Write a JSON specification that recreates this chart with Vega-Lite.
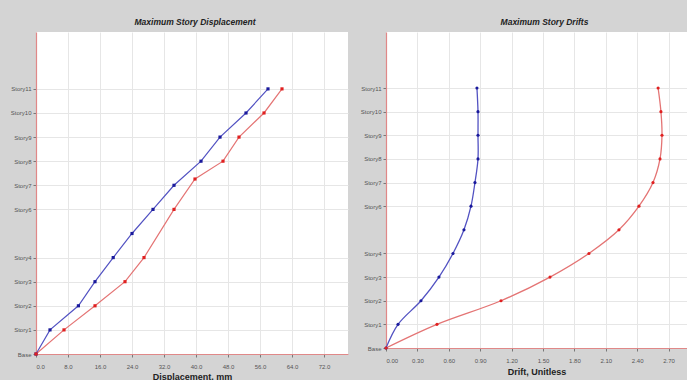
{
  "$schema": "https://vega.github.io/schema/vega-lite/v6.json",
  "background": "#d4d4d4",
  "padding": {"left": 7, "top": 17, "right": 0, "bottom": 0},
  "bounds": "flush",
  "spacing": 38,
  "config": {
    "view": {"stroke": null, "fill": "white"},
    "axis": {
      "domainColor": "#e08888",
      "domainWidth": 1.2,
      "tickColor": "#777777",
      "tickSize": 3,
      "labelFont": "Liberation Sans",
      "labelFontSize": 6,
      "labelColor": "#555555",
      "gridColor": "#e6e6e6",
      "gridWidth": 1,
      "titleFont": "Liberation Sans",
      "titleFontSize": 9,
      "titleFontWeight": "bold",
      "titleColor": "#222222"
    },
    "title": {"font": "Liberation Sans", "fontSize": 8.5, "fontWeight": "bold", "fontStyle": "italic", "color": "#222222", "offset": 6}
  },
  "datasets": {
    "disp": [
      {"series": "X", "level": 0, "value": 0},
      {"series": "X", "level": 1, "value": 3.5},
      {"series": "X", "level": 2, "value": 10.6},
      {"series": "X", "level": 3, "value": 14.75},
      {"series": "X", "level": 4, "value": 19.3},
      {"series": "X", "level": 5, "value": 24.0},
      {"series": "X", "level": 6, "value": 29.25},
      {"series": "X", "level": 7, "value": 34.5},
      {"series": "X", "level": 8, "value": 41.25},
      {"series": "X", "level": 9, "value": 46.0},
      {"series": "X", "level": 10, "value": 52.5},
      {"series": "X", "level": 11, "value": 58.0},
      {"series": "Y", "level": 0, "value": 0},
      {"series": "Y", "level": 1, "value": 7.0},
      {"series": "Y", "level": 2, "value": 14.75},
      {"series": "Y", "level": 3, "value": 22.25},
      {"series": "Y", "level": 4, "value": 27.0},
      {"series": "Y", "level": 6, "value": 34.5},
      {"series": "Y", "level": 7.26, "value": 39.75},
      {"series": "Y", "level": 8, "value": 46.75},
      {"series": "Y", "level": 9, "value": 50.75},
      {"series": "Y", "level": 10, "value": 57.0},
      {"series": "Y", "level": 11, "value": 61.5}
    ],
    "drift": [
      {"series": "X", "level": 0, "value": 0},
      {"series": "X", "level": 1, "value": 0.115},
      {"series": "X", "level": 2, "value": 0.334},
      {"series": "X", "level": 3, "value": 0.506},
      {"series": "X", "level": 4, "value": 0.64},
      {"series": "X", "level": 5, "value": 0.745},
      {"series": "X", "level": 6, "value": 0.812},
      {"series": "X", "level": 7, "value": 0.85},
      {"series": "X", "level": 8, "value": 0.879},
      {"series": "X", "level": 9, "value": 0.879},
      {"series": "X", "level": 10, "value": 0.879},
      {"series": "X", "level": 11, "value": 0.869},
      {"series": "Y", "level": 0, "value": 0},
      {"series": "Y", "level": 1, "value": 0.487},
      {"series": "Y", "level": 2, "value": 1.099},
      {"series": "Y", "level": 3, "value": 1.567},
      {"series": "Y", "level": 4, "value": 1.939},
      {"series": "Y", "level": 5, "value": 2.226},
      {"series": "Y", "level": 6, "value": 2.417},
      {"series": "Y", "level": 7, "value": 2.551},
      {"series": "Y", "level": 8, "value": 2.618},
      {"series": "Y", "level": 9, "value": 2.637},
      {"series": "Y", "level": 10, "value": 2.627},
      {"series": "Y", "level": 11, "value": 2.6}
    ]
  },
  "hconcat": [
    {
      "width": 312,
      "height": 322,
      "title": {"text": "Maximum Story Displacement", "dx": 3},
      "data": {"name": "disp"},
      "encoding": {
        "x": {"field": "value", "type": "quantitative", "scale": {"domain": [0, 78], "nice": false, "zero": true},
          "axis": {"title": "Displacement, mm", "values": [0, 8, 16, 24, 32, 40, 48, 56, 64, 72], "format": ".1f", "labelPadding": 6, "titlePadding": 4, "minExtent": 14, "maxExtent": 14}},
        "y": {"field": "level", "type": "quantitative", "scale": {"domain": [0, 13.36], "nice": false},
          "axis": {"title": null, "values": [0, 1, 2, 3, 4, 6, 7, 8, 9, 10, 11], "labelExpr": "datum.value == 0 ? 'Base' : 'Story' + datum.value", "labelPadding": 2, "minExtent": 29, "maxExtent": 29}},
        "order": {"field": "level", "type": "quantitative"}
      },
      "layer": [
        {"mark": {"type": "line", "strokeWidth": 1.2},
          "encoding": {"color": {"field": "series", "type": "nominal", "scale": {"domain": ["X", "Y"], "range": ["#5252c2", "#e47474"]}, "legend": null}}},
        {"mark": {"type": "point", "filled": true, "shape": "square", "size": 10, "opacity": 1},
          "encoding": {"fill": {"field": "series", "type": "nominal", "scale": {"domain": ["X", "Y"], "range": ["#1a1a9c", "#e02020"]}, "legend": null}}}
      ]
    },
    {
      "width": 301,
      "height": 316,
      "title": {"text": "Maximum Story Drifts", "dx": 8},
      "data": {"name": "drift"},
      "encoding": {
        "x": {"field": "value", "type": "quantitative", "scale": {"domain": [0, 2.876], "nice": false},
          "axis": {"title": "Drift, Unitless", "values": [0, 0.3, 0.6, 0.9, 1.2, 1.5, 1.8, 2.1, 2.4, 2.7], "format": ".2f", "labelPadding": 6, "titlePadding": 4}},
        "y": {"field": "level", "type": "quantitative", "scale": {"domain": [0, 13.37], "nice": false},
          "axis": {"title": null, "values": [0, 1, 2, 3, 4, 6, 7, 8, 9, 10, 11], "labelExpr": "datum.value == 0 ? 'Base' : 'Story' + datum.value", "labelPadding": 2}},
        "order": {"field": "level", "type": "quantitative"}
      },
      "layer": [
        {"mark": {"type": "line", "strokeWidth": 1.3, "interpolate": "catmull-rom"},
          "encoding": {"color": {"field": "series", "type": "nominal", "scale": {"domain": ["X", "Y"], "range": ["#2a2aa8", "#cc4a4a"]}, "legend": null}}},
        {"mark": {"type": "point", "filled": true, "shape": "circle", "size": 10, "opacity": 1},
          "encoding": {"fill": {"field": "series", "type": "nominal", "scale": {"domain": ["X", "Y"], "range": ["#1a1a9c", "#e02020"]}, "legend": null}}}
      ]
    }
  ]
}
